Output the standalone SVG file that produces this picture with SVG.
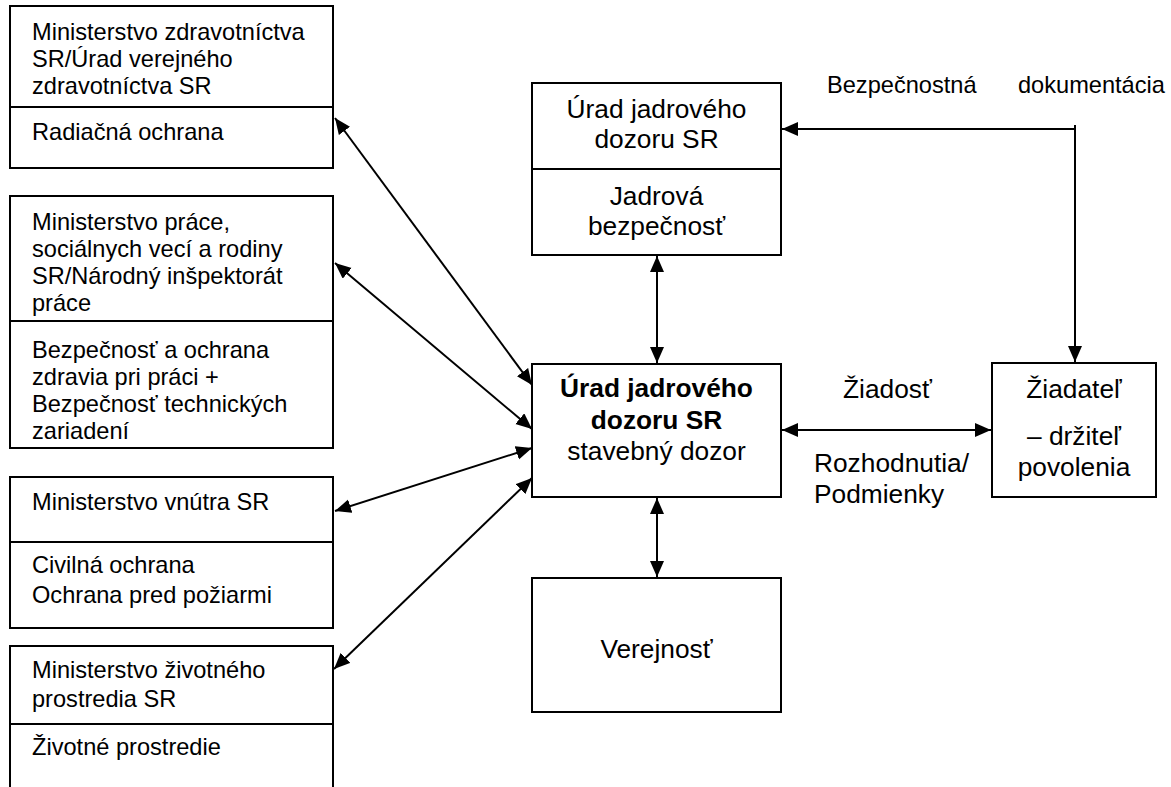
<svg xmlns="http://www.w3.org/2000/svg" width="1171" height="787" viewBox="0 0 1171 787">
<style>
.box{fill:#fff;stroke:#000;stroke-width:2}
.div{stroke:#000;stroke-width:2}
.t{font-family:"Liberation Sans",Arial,sans-serif;font-size:23.6px;fill:#000}
.m{font-family:"Liberation Sans",Arial,sans-serif;font-size:26.3px;fill:#000}
.c{text-anchor:middle}
.b{font-weight:bold}
.ln{stroke:#000;stroke-width:2;fill:none}
</style>
<defs>
<marker id="ah" markerUnits="userSpaceOnUse" markerWidth="17" markerHeight="15" refX="16" refY="7" orient="auto-start-reverse" viewBox="0 0 17 15">
<path d="M0,0 L16,7 L0,14 z" fill="#000"/>
</marker>
</defs>
<rect width="1171" height="787" fill="#fff"/>

<g id="conn">
<line class="ln" x1="335" y1="118" x2="532" y2="385" marker-start="url(#ah)" marker-end="url(#ah)"/>
<line class="ln" x1="335" y1="263" x2="532" y2="429" marker-start="url(#ah)" marker-end="url(#ah)"/>
<line class="ln" x1="335" y1="511" x2="532" y2="448" marker-start="url(#ah)" marker-end="url(#ah)"/>
<line class="ln" x1="334" y1="669" x2="532" y2="478" marker-start="url(#ah)" marker-end="url(#ah)"/>
<line class="ln" x1="657" y1="256" x2="657" y2="363" marker-start="url(#ah)" marker-end="url(#ah)"/>
<line class="ln" x1="657" y1="498" x2="657" y2="577" marker-start="url(#ah)" marker-end="url(#ah)"/>
<line class="ln" x1="782" y1="430" x2="991" y2="430" marker-start="url(#ah)" marker-end="url(#ah)"/>
<line class="ln" x1="1075" y1="129" x2="782" y2="129" marker-end="url(#ah)"/>
<line class="ln" x1="1075" y1="125" x2="1075" y2="362" marker-end="url(#ah)"/>
<text class="t" x="827" y="93">Bezpečnostná</text>
<text class="t" x="1018" y="93">dokumentácia</text>
<text class="m" x="843" y="398">Žiadosť</text>
<text class="m" x="814" y="472">Rozhodnutia/</text>
<text class="m" x="814" y="503">Podmienky</text>
</g>

<g id="n1">
<rect class="box" x="10" y="6" width="323" height="162"/>
<line class="div" x1="10" y1="107" x2="333" y2="107"/>
<text class="t" x="32" y="40">Ministerstvo zdravotníctva</text>
<text class="t" x="32" y="67">SR/Úrad verejného</text>
<text class="t" x="32" y="94">zdravotníctva SR</text>
<text class="t" x="32" y="140">Radiačná ochrana</text>
</g>

<g id="n2">
<rect class="box" x="10" y="196" width="323" height="252"/>
<line class="div" x1="10" y1="321" x2="333" y2="321"/>
<text class="t" x="32" y="230">Ministerstvo práce,</text>
<text class="t" x="32" y="257">sociálnych vecí a rodiny</text>
<text class="t" x="32" y="284">SR/Národný inšpektorát</text>
<text class="t" x="32" y="311">práce</text>
<text class="t" x="32" y="358">Bezpečnosť a ochrana</text>
<text class="t" x="32" y="385">zdravia pri práci +</text>
<text class="t" x="32" y="412">Bezpečnosť technických</text>
<text class="t" x="32" y="439">zariadení</text>
</g>

<g id="n3">
<rect class="box" x="10" y="477" width="323" height="151"/>
<line class="div" x1="10" y1="542" x2="333" y2="542"/>
<text class="t" x="32" y="510">Ministerstvo vnútra SR</text>
<text class="t" x="32" y="573">Civilná ochrana</text>
<text class="t" x="32" y="603">Ochrana pred požiarmi</text>
</g>

<g id="n4">
<path class="box" d="M10,790 L10,646 L333,646 L333,790"/>
<line class="div" x1="10" y1="724" x2="333" y2="724"/>
<text class="t" x="32" y="678">Ministerstvo životného</text>
<text class="t" x="32" y="707">prostredia SR</text>
<text class="t" x="32" y="755">Životné prostredie</text>
</g>

<g id="n5">
<rect class="box" x="532" y="83" width="249" height="172"/>
<line class="div" x1="532" y1="169" x2="781" y2="169"/>
<text class="m c" x="656.5" y="118">Úrad jadrového</text>
<text class="m c" x="656.5" y="148">dozoru SR</text>
<text class="m c" x="656.5" y="205">Jadrová</text>
<text class="m c" x="656.5" y="235">bezpečnosť</text>
</g>

<g id="n6">
<rect class="box" x="532" y="364" width="249" height="133"/>
<text class="m c b" x="656.5" y="397">Úrad jadrového</text>
<text class="m c b" x="656.5" y="429">dozoru SR</text>
<text class="m c" x="656.5" y="460">stavebný dozor</text>
</g>

<g id="n7">
<rect class="box" x="532" y="578" width="249" height="134"/>
<text class="m c" x="656.5" y="658">Verejnosť</text>
</g>

<g id="n8">
<rect class="box" x="992" y="363" width="164" height="134"/>
<text class="m c" x="1074" y="398">Žiadateľ</text>
<text class="m c" x="1074" y="445">– držiteľ</text>
<text class="m c" x="1074" y="476">povolenia</text>
</g>
</svg>
